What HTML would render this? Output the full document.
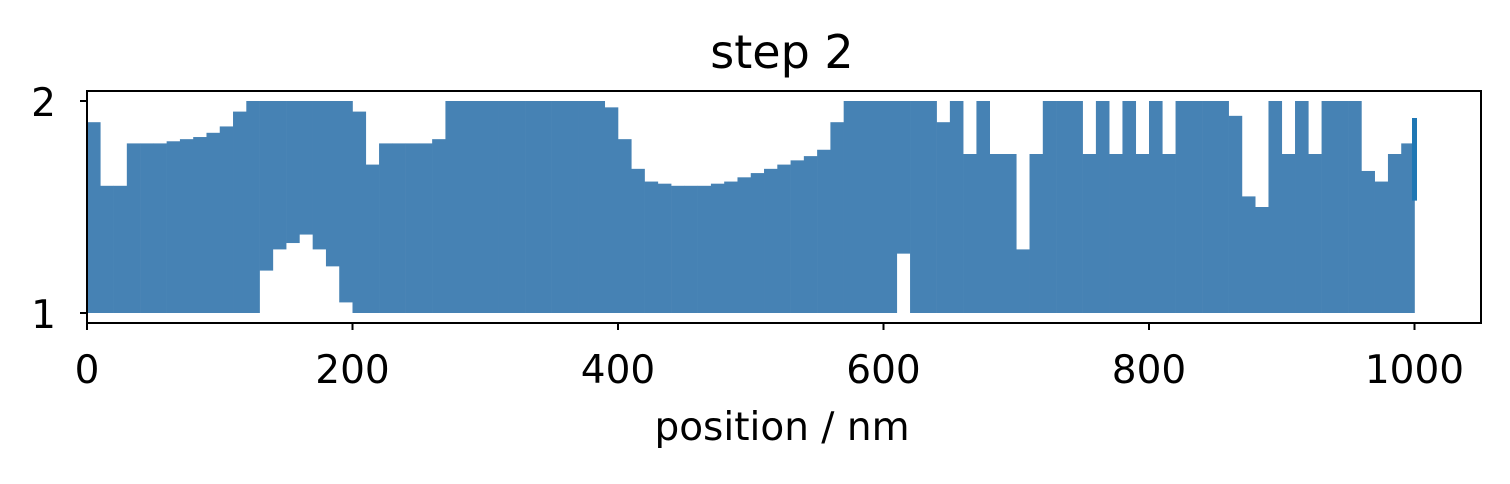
<!DOCTYPE html>
<html><head><meta charset="utf-8"><style>
body{margin:0;background:#fff;}
svg text{font-family:"DejaVu Sans","Liberation Sans",sans-serif;fill:#000;}
</style></head><body>
<svg width="1510" height="479" viewBox="0 0 1510 479">
<text x="782" y="68" font-size="46" text-anchor="middle">step 2</text>
<g id="marks"></g>
<rect x="87" y="91" width="1394" height="232" fill="none" stroke="#000" stroke-width="2"/>
<g id="axes"></g>
<text x="782" y="440" font-size="39" text-anchor="middle">position / nm</text>
</svg>
<script>
const binStarts = Array.from({length:100},(_,i)=>i*10);
const hiValues = [1.9,1.6,1.6,1.8,1.8,1.8,1.81,1.82,1.83,1.85,1.88,1.95,2,2,2,2,2,2,2,2,1.95,1.7,1.8,1.8,1.8,1.8,1.82,2,2,2,2,2,2,2,2,2,2,2,2,1.97,1.82,1.68,1.62,1.61,1.6,1.6,1.6,1.61,1.62,1.64,1.66,1.68,1.7,1.72,1.74,1.77,1.9,2,2,2,2,2,2,2,1.9,2,1.75,2,1.75,1.75,1.3,1.75,2,2,2,1.75,2,1.75,2,1.75,2,1.75,2,2,2,2,1.93,1.55,1.5,2,1.75,2,1.75,2,2,2,1.67,1.62,1.75,1.8];
const loValues = [1,1,1,1,1,1,1,1,1,1,1,1,1,1.2,1.3,1.33,1.37,1.3,1.22,1.05,1,1,1,1,1,1,1,1,1,1,1,1,1,1,1,1,1,1,1,1,1,1,1,1,1,1,1,1,1,1,1,1,1,1,1,1,1,1,1,1,1,1.28,1,1,1,1,1,1,1,1,1,1,1,1,1,1,1,1,1,1,1,1,1,1,1,1,1,1,1,1,1,1,1,1,1,1,1,1,1,1];
const lastSegment = [1.92,1.53];
const xTicks = [0,200,400,600,800,1000];
const yTicks = [1,2];
const X = v => 87 + v*1.3275;
const Y = v => 313 - (v-1)*212;
const NS="http://www.w3.org/2000/svg";
const g=document.getElementById('marks');
binStarts.forEach((s,i)=>{
  const r=document.createElementNS(NS,'rect');
  
  
  r.setAttribute('x',X(s));r.setAttribute('width',X(s+10)-X(s)+0.3);
  r.setAttribute('y',Y(hiValues[i]));r.setAttribute('height',Y(loValues[i])-Y(hiValues[i]));
  r.setAttribute('fill','#4682b4');g.appendChild(r);
});
const l=document.createElementNS(NS,'line');


l.setAttribute('x1',X(1000));l.setAttribute('x2',X(1000));
l.setAttribute('y1',Y(lastSegment[0]));l.setAttribute('y2',Y(lastSegment[1]));
l.setAttribute('stroke','#1f77b4');l.setAttribute('stroke-width','5');g.appendChild(l);
const a=document.getElementById('axes');
xTicks.forEach(t=>{
  const tk=document.createElementNS(NS,'line');
  
  
  tk.setAttribute('x1',X(t));tk.setAttribute('x2',X(t));tk.setAttribute('y1',323);tk.setAttribute('y2',330);
  tk.setAttribute('stroke','#000');tk.setAttribute('stroke-width','2');a.appendChild(tk);
  const tx=document.createElementNS(NS,'text');
  
  
  tx.setAttribute('x',X(t));tx.setAttribute('y',383);tx.setAttribute('font-size','39');tx.setAttribute('text-anchor','middle');
  tx.textContent=t;a.appendChild(tx);
});
yTicks.forEach(t=>{
  const tk=document.createElementNS(NS,'line');
  
  
  tk.setAttribute('x1',80);tk.setAttribute('x2',87);tk.setAttribute('y1',Y(t));tk.setAttribute('y2',Y(t));
  tk.setAttribute('stroke','#000');tk.setAttribute('stroke-width','2');a.appendChild(tk);
  const tx=document.createElementNS(NS,'text');
  
  
  tx.setAttribute('x',56);tx.setAttribute('y',Y(t)+15);tx.setAttribute('font-size','39');tx.setAttribute('text-anchor','end');
  tx.textContent=t;a.appendChild(tx);
});
</script>
</body></html>
